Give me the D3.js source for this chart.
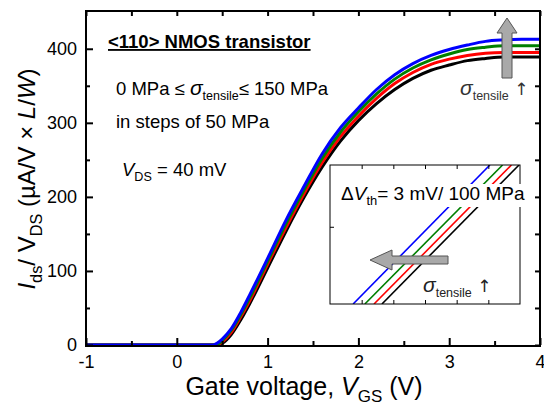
<!DOCTYPE html>
<html>
<head>
<meta charset="utf-8">
<script src="https://cdn.jsdelivr.net/npm/d3@7"></script>
<style>
  html, body { margin: 0; padding: 0; background: #fff; }
  svg { display: block; font-family: "Liberation Sans", Arial, Helvetica, sans-serif; }
</style>
</head>
<body>
<svg id="chart" width="544" height="411"></svg>
<script>
// ---------------- data ----------------
const vgs = [-1, 0, 0.4, 0.45, 0.5, 0.6, 0.7, 0.8, 1.0, 1.2, 1.4, 1.6, 1.8, 2.0, 2.2, 2.4, 2.6, 2.8, 3.0, 3.2, 3.4, 3.6, 3.8, 4.0];
const stressLevels = ["0 MPa", "50 MPa", "100 MPa", "150 MPa"];
const seriesColors = ["#000000", "#ff0000", "#008000", "#0000ff"];
const g0MPa   = [0, 0, 0, 0, 2, 14, 33, 55, 104, 153, 199, 240, 275, 303, 326, 345, 360, 371, 378, 384, 387, 389, 389, 389];
const g50MPa  = [0, 0, 0, 0, 4, 17, 37, 59, 109, 158, 204, 246, 281, 309, 333, 353, 368, 379, 386, 391, 394, 395, 395, 395];
const g100MPa = [0, 0, 0, 1, 6, 20, 40, 63, 113, 163, 209, 252, 287, 315, 339, 359, 374, 385, 393, 399, 402, 404, 404, 404];
const g150MPa = [0, 0, 0, 3, 8, 22, 43, 67, 117, 168, 214, 258, 293, 320, 345, 365, 380, 391, 399, 405, 410, 412, 413, 413];
const seriesValues = [g0MPa, g50MPa, g100MPa, g150MPa];

const xTicks = [-1, 0, 1, 2, 3, 4];
const xTickLabels = ["-1", "0", "1", "2", "3", "4"];
const xMinorTicks = [-0.5, 0.5, 1.5, 2.5, 3.5];
const yTicks = [0, 100, 200, 300, 400];
const yMinorTicks = [50, 150, 250, 350];

// inset (zoom of linear region): each line from (x0, y0) to (x1, y1) in inset units
const insetY = [0, 1.8];
const insetX0 = [1.64, 1.39, 1.10, 0.73];   // 0, 50, 100, 150 MPa
const insetX1 = [5.97, 5.73, 5.45, 5.05];
const insetXTicks = [1, 2, 3, 4, 5];
const insetYTicks = [1];

// ---------------- layout ----------------
const svg = d3.select("#chart");
const L = 86, R = 540, T = 11, B = 345;
const FONT = '"Liberation Sans", Arial, Helvetica, sans-serif';

const x = d3.scaleLinear().domain([-1, 4]).range([L, R]);
const y = d3.scaleLinear().domain([0, 451]).range([B, T]);

svg.append("defs").append("clipPath").attr("id", "plotclip")
  .append("rect").attr("x", L).attr("y", T).attr("width", R - L).attr("height", B - T + 2);

// rich text helper
function rich(parent, px, py, parts, size, opts = {}) {
  const t = parent.append("text").attr("x", px).attr("y", py)
    .attr("font-size", size).attr("fill", opts.fill || "#000")
    .attr("font-family", FONT);
  if (opts.anchor) t.attr("text-anchor", opts.anchor);
  if (opts.weight) t.attr("font-weight", opts.weight);
  if (opts.transform) t.attr("transform", opts.transform);
  let shifted = 0;
  parts.forEach(p => {
    const s = p.size || (p.sub ? size * 0.68 : size);
    const ts = t.append("tspan").text(p.t).attr("font-size", s);
    if (p.i) ts.attr("font-style", "italic");
    if (p.font) ts.attr("font-family", p.font);
    const want = p.sub ? size * 0.28 : 0;
    if (want !== shifted) { ts.attr("dy", want - shifted); shifted = want; }
  });
  return t;
}

// ---------------- curves ----------------
const line = d3.line().x(d => x(d[0])).y(d => y(d[1])).curve(d3.curveMonotoneX);
const curves = svg.append("g").attr("clip-path", "url(#plotclip)");
seriesValues.forEach((vals, i) => {
  curves.append("path")
    .datum(vgs.map((v, k) => [v, vals[k]]))
    .attr("d", line)
    .attr("fill", "none")
    .attr("stroke", seriesColors[i])
    .attr("stroke-width", 3)
    .attr("stroke-linejoin", "round");
});

// ---------------- axes ----------------
function styleAxis(g) {
  g.select(".domain").remove();
  g.selectAll(".tick line").attr("stroke", "#000").attr("stroke-width", 2);
  g.selectAll(".tick text").attr("font-family", FONT).attr("font-size", 18).attr("fill", "#000");
}
svg.append("g").attr("transform", `translate(0,${B})`)
  .call(d3.axisBottom(x).tickValues(xTicks).tickSize(-7).tickPadding(10)
    .tickFormat((d, i) => xTickLabels[i]))
  .call(styleAxis);
svg.append("g").attr("transform", `translate(0,${B})`)
  .call(d3.axisBottom(x).tickValues(xMinorTicks).tickSize(-4).tickFormat(""))
  .call(styleAxis);
svg.append("g").attr("transform", `translate(${L},0)`)
  .call(d3.axisLeft(y).tickValues(yTicks).tickSize(-7).tickPadding(9).tickFormat(d3.format("d")))
  .call(styleAxis);
svg.append("g").attr("transform", `translate(${L},0)`)
  .call(d3.axisLeft(y).tickValues(yMinorTicks).tickSize(-4).tickFormat(""))
  .call(styleAxis);
svg.append("g").attr("transform", `translate(0,${T})`)
  .call(d3.axisTop(x).tickValues(xTicks.concat(xMinorTicks)).tickSize(-5).tickFormat(""))
  .call(styleAxis);
svg.append("g").attr("transform", `translate(${R},0)`)
  .call(d3.axisRight(y).tickValues(yTicks.concat(yMinorTicks)).tickSize(-5).tickFormat(""))
  .call(styleAxis);

svg.append("rect").attr("x", L).attr("y", T).attr("width", R - L).attr("height", B - T + 1)
  .attr("fill", "none").attr("stroke", "#000").attr("stroke-width", 2);

// axis titles
rich(svg, 304, 395, [
  { t: "Gate voltage, " }, { t: "V", i: true }, { t: "GS", sub: true }, { t: " (V)" }
], 25, { anchor: "middle" });

rich(svg, 0, 0, [
  { t: "I", i: true }, { t: "ds", sub: true }, { t: "/ V" }, { t: "DS", sub: true },
  { t: " (µA/V × " }, { t: "L", i: true }, { t: "/" }, { t: "W", i: true }, { t: ")" }
], 24, { anchor: "middle", transform: "translate(35,179) rotate(-90)" });

// ---------------- annotations ----------------
rich(svg, 108, 48, [{ t: "<110> NMOS transistor" }], 18.5, { weight: "bold" })
  .attr("text-decoration", "underline");
rich(svg, 116, 95, [
  { t: "0 MPa ≤ " }, { t: "σ", i: true, size: 21 }, { t: "tensile", sub: true, size: 12.5 }, { t: "≤ 150 MPa" }
], 18.5);
rich(svg, 116, 128, [{ t: "in steps of 50 MPa" }], 18.5);
rich(svg, 122, 176, [{ t: "V", i: true }, { t: "DS", sub: true }, { t: " = 40 mV" }], 18.5);

// top-right arrow
const upArrow = [[507, 18], [517, 33], [512, 33], [512, 78], [502, 78], [502, 33], [497, 33]];
svg.append("polygon").attr("points", upArrow.map(p => p.join(",")).join(" "))
  .attr("fill", "#a9a9a9").attr("stroke", "#555").attr("stroke-width", 1);
rich(svg, 460, 95, [
  { t: "σ", i: true, size: 21 }, { t: "tensile", sub: true, size: 12.5 },
  { t: " ↑", size: 17, font: "DejaVu Sans" }
], 18, { fill: "#333" });

// ---------------- inset ----------------
const IL = 330, IR = 520, IT = 165, IB = 304;
const ix = d3.scaleLinear().domain([0, 6]).range([IL, IR]);
const iy = d3.scaleLinear().domain([0, 1.8]).range([IB, IT]);
svg.append("defs").append("clipPath").attr("id", "insetclip")
  .append("rect").attr("x", IL).attr("y", IT).attr("width", IR - IL).attr("height", IB - IT);
const inset = svg.append("g");
inset.append("rect").attr("x", IL).attr("y", IT).attr("width", IR - IL).attr("height", IB - IT)
  .attr("fill", "#fff");
const ilines = inset.append("g").attr("clip-path", "url(#insetclip)");
insetX0.forEach((x0, i) => {
  ilines.append("line")
    .attr("x1", ix(x0)).attr("y1", iy(insetY[0]))
    .attr("x2", ix(insetX1[i])).attr("y2", iy(insetY[1]))
    .attr("stroke", seriesColors[i]).attr("stroke-width", 1.6);
});
function styleInset(g) {
  g.select(".domain").remove();
  g.selectAll(".tick line").attr("stroke", "#000").attr("stroke-width", 1);
}
inset.append("g").attr("transform", `translate(0,${IB})`)
  .call(d3.axisBottom(ix).tickValues(insetXTicks).tickSize(-4).tickFormat("")).call(styleInset);
inset.append("g").attr("transform", `translate(0,${IT})`)
  .call(d3.axisTop(ix).tickValues(insetXTicks).tickSize(-4).tickFormat("")).call(styleInset);
inset.append("g").attr("transform", `translate(${IL},0)`)
  .call(d3.axisLeft(iy).tickValues(insetYTicks).tickSize(-4).tickFormat("")).call(styleInset);
inset.append("rect").attr("x", IL).attr("y", IT).attr("width", IR - IL).attr("height", IB - IT)
  .attr("fill", "none").attr("stroke", "#000").attr("stroke-width", 1);

// inset label with white background
inset.append("rect").attr("x", 338).attr("y", 184).attr("width", 187).attr("height", 23).attr("fill", "#fff");
rich(inset, 341, 200, [
  { t: "Δ" }, { t: "V", i: true }, { t: "th", sub: true }, { t: "= 3 mV/ 100 MPa" }
], 19);

// inset arrow (left)
const leftArrow = [[370, 260], [392, 250], [392, 256], [448, 256], [448, 264], [392, 264], [392, 270]];
inset.append("polygon").attr("points", leftArrow.map(p => p.join(",")).join(" "))
  .attr("fill", "#a9a9a9").attr("stroke", "#555").attr("stroke-width", 1);
rich(inset, 423, 292, [
  { t: "σ", i: true, size: 21 }, { t: "tensile", sub: true, size: 12.5 },
  { t: " ↑", size: 17, font: "DejaVu Sans" }
], 18, { fill: "#222" });
</script>
</body>
</html>
